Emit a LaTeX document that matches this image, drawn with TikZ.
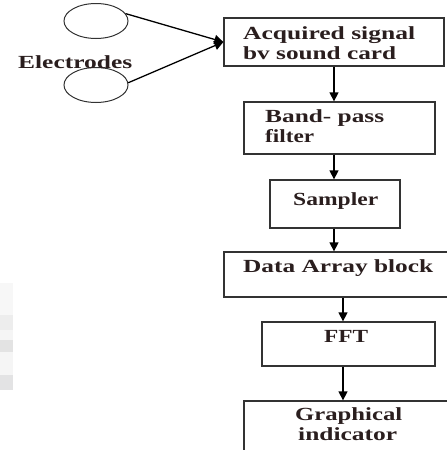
\documentclass[tikz,border=0pt]{standalone}
\usepackage{graphicx}
\usepackage{fontspec}
\setmainfont{Liberation Serif}
\usetikzlibrary{arrows.meta,shapes.geometric}
\definecolor{boxline}{HTML}{333333}
\definecolor{txt}{HTML}{2A1E1E}
\newcommand\fitw[2]{\resizebox{#1pt}{\height}{#2}}
\begin{document}
\begin{tikzpicture}[x=1pt,y=-1pt,
  blk/.style={draw=boxline,line width=1.3pt,rectangle,inner sep=0pt},
  lbl/.style={inner sep=0pt,anchor=base west,text=txt,font=\fontsize{18.5}{20}\selectfont\bfseries},
  elec/.style={draw=boxline,line width=1pt,ellipse,inner sep=0pt,minimum width=64pt,minimum height=35pt},
  flow/.style={draw=black,line width=1.3pt,-{Triangle[length=9pt,width=9pt]}}]
\useasboundingbox (0,0) rectangle (447,450);
\clip (0,0) rectangle (447,450);
% faint background artefact on the left
\fill[black!3] (0,283) rectangle (13,315);
\fill[black!7] (0,315) rectangle (13,330);
\fill[black!4] (0,330) rectangle (13,340);
\fill[black!11] (0,340) rectangle (13,352);
\fill[blue!2!black!4] (0,352) rectangle (13,375);
\fill[blue!3!black!11] (0,375) rectangle (13,390);
% electrodes
\node[elec] (e1) at (96,21) {};
\node[elec] (e2) at (96,85) {};
\node[lbl] (el) at (18,68) {\fitw{114}{Electrodes}};
% blocks
\node[blk,minimum width=220pt,minimum height=48pt] (b1) at (334,42) {};
\node[blk,minimum width=191pt,minimum height=52pt] (b2) at (339.5,128) {};
\node[blk,minimum width=130pt,minimum height=48pt] (b3) at (335,204) {};
\node[blk,minimum width=236pt,minimum height=45pt] (b4) at (342,274.5) {};
\node[blk,minimum width=173pt,minimum height=44pt] (b5) at (348.5,344) {};
\node[blk,minimum width=215pt,minimum height=60pt] (b6) at (351.5,431) {};
% texts
\node[lbl] (t1a) at (243,39) {\fitw{172}{Acquired signal}};
\node[lbl] (t1b) at (243,59) {\fitw{153}{bv sound card}};
\node[lbl] (t2a) at (265,122) {\fitw{119}{Band- pass}};
\node[lbl] (t2b) at (265,142) {\fitw{49}{filter}};
\node[lbl] (t3) at (293,205) {\fitw{85}{Sampler}};
\node[lbl] (t4) at (243,272) {\fitw{190}{Data Array block}};
\node[lbl] (t5) at (324,342) {\fitw{44}{FFT}};
\node[lbl] (t6a) at (295,420) {\fitw{107}{Graphical}};
\node[lbl] (t6b) at (298,440) {\fitw{99}{indicator}};
% connectors
\draw[flow] (e1.14) -- (b1.west);
\draw[flow] (e2.4) -- (b1.west);
\draw[flow] (b1.south) -- (b1.south |- b2.north);
\draw[flow] ([xshift=-1pt]b3.north |- b2.south) -- ([xshift=-1pt]b3.north);
\draw[flow] ([xshift=-1pt]b3.south) -- ([xshift=-1pt]b3.south |- b4.north);
\draw[flow] ([xshift=-5.5pt]b5.north |- b4.south) -- ([xshift=-5.5pt]b5.north);
\draw[flow] ([xshift=-5.5pt]b5.south) -- ([xshift=-5.5pt]b5.south |- b6.north);
\end{tikzpicture}
\end{document}
